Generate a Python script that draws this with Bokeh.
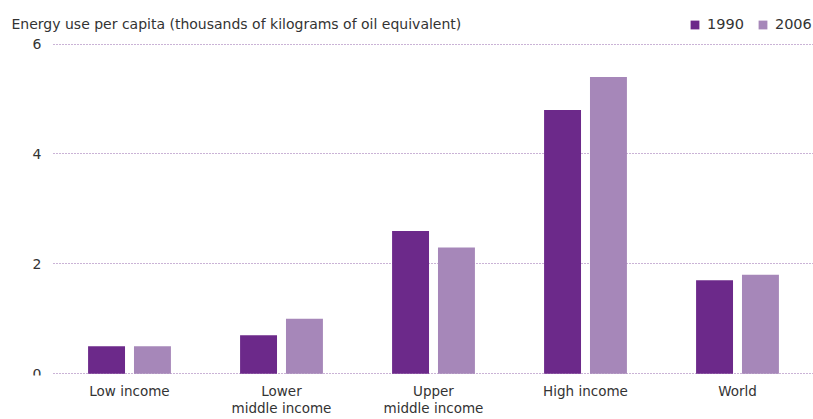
from bokeh.plotting import figure
from bokeh.models import (ColumnDataSource, Range1d, FixedTicker, Legend, LegendItem,
                          Label, Grid)
from bokeh.core.properties import value
from bokeh.transform import dodge
from bokeh.embed import file_html
from bokeh.resources import INLINE

categories = ["Low income", "Lower middle income", "Upper middle income", "High income", "World"]
tick_labels = ["Low income", "Lower\nmiddle income", "Upper\nmiddle income", "High income", "World"]
values_1990 = [0.5, 0.7, 2.6, 4.8, 1.7]
values_2006 = [0.5, 1.0, 2.3, 5.4, 1.8]
series_names = ["1990", "2006"]
y_ticks = [0, 2, 4, 6]
title_text = "Energy use per capita (thousands of kilograms of oil equivalent)"

C1990 = "#6c298a"
C2006 = "#a687b9"
GRID = "#9466ad"
TEXT = "#333333"
FONT = "DejaVu Sans"

n = len(categories)
cat_pos = [i + 0.5 for i in range(n)]          # category slots on the x scale
source = ColumnDataSource(dict(x=cat_pos, cat=categories, v1990=values_1990, v2006=values_2006))
ytick_src = ColumnDataSource(dict(x=[0] * len(y_ticks), y=y_ticks, t=[str(t) for t in y_ticks]))

LEFT_PX = 53      # space left of the category area
SLOT_PX = 152     # width of one category slot

p = figure(
    x_range=Range1d(-LEFT_PX / SLOT_PX, n),
    y_range=Range1d(-0.032, 6.794),
    width=813, height=419,
    y_axis_location=None,
    output_backend="svg", toolbar_location=None,
    min_border_left=0, min_border_right=0, min_border_top=0, min_border_bottom=43,
)
p.outline_line_color = None
p.background_fill_color = "white"
p.border_fill_color = "white"
for g in list(p.grid):
    g.visible = False

# horizontal dotted grid over the category area only
grid = Grid(dimension=1, ticker=FixedTicker(ticks=y_ticks), grid_line_color=GRID,
            grid_line_dash="1 2", grid_line_width=1)
if "cross_bounds" in Grid.properties():
    grid.cross_bounds = (0, n)
    p.add_layout(grid)
else:
    p.segment(x0=[0] * len(y_ticks), x1=[n] * len(y_ticks), y0=y_ticks, y1=y_ticks,
              line_color=GRID, line_dash="1 2", line_width=1)

r1 = p.vbar(x=dodge("x", -0.151), top="v1990", width=0.243,
            source=source, fill_color=C1990, line_color=None)
r2 = p.vbar(x=dodge("x", 0.151), top="v2006", width=0.243,
            source=source, fill_color=C2006, line_color=None)

# y tick labels
p.text(x="x", y="y", text="t", source=ytick_src, x_offset=-12,
       text_align="right", text_baseline="middle", text_color=TEXT,
       text_font=value(FONT), text_font_size="14px")

# x axis with category names
xa = p.xaxis[0]
xa.ticker = FixedTicker(ticks=cat_pos)
xa.major_label_overrides = dict(zip(cat_pos, tick_labels))
xa.axis_line_color = None
xa.major_tick_line_color = None
xa.minor_tick_line_color = None
xa.major_tick_out = 0
xa.major_tick_in = 0
xa.major_label_text_font = FONT
xa.major_label_text_font_size = "13.5px"
xa.major_label_text_color = TEXT
xa.major_label_text_line_height = 1.1
xa.major_label_standoff = 7

# title
p.add_layout(Label(x=11, y=351.5, x_units="screen", y_units="screen", text=title_text,
                   text_font=FONT, text_font_size="14px", text_color=TEXT,
                   text_baseline="alphabetic", text_align="left"))

# legend
legend = Legend(items=[LegendItem(label=series_names[0], renderers=[r1]),
                       LegendItem(label=series_names[1], renderers=[r2])],
                orientation="horizontal", location=(689, 343),
                glyph_width=11, glyph_height=11, label_standoff=7, spacing=13,
                padding=0, margin=0, border_line_color=None,
                background_fill_alpha=0,
                label_text_font=FONT, label_text_font_size="14.5px",
                label_text_color=TEXT, label_height=11, label_text_baseline="middle")
p.add_layout(legend)

open("out.html", "w").write(file_html(p, INLINE))
